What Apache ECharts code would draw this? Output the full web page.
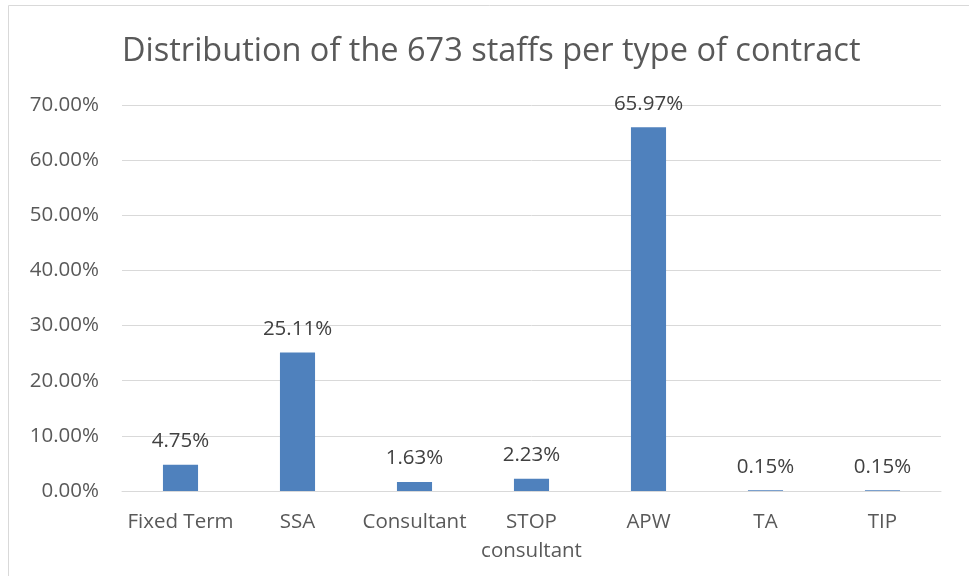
<!DOCTYPE html>
<html lang="en">
<head>
    <meta charset="utf-8"/>
    <title>Distribution of the 673 staffs per type of contract</title>
    <script src="https://cdn.jsdelivr.net/npm/echarts@6/dist/echarts.min.js"></script>
    <style>
        html, body { margin: 0; padding: 0; background: #fff; }
        #chart { width: 969px; height: 576px; }
    </style>
</head>
<body>
<div id="chart"></div>
<script>
    const categories = ['Fixed Term', 'SSA', 'Consultant', 'STOP\nconsultant', 'APW', 'TA', 'TIP'];
    const shares = [4.75, 25.11, 1.63, 2.23, 65.97, 0.15, 0.15];

    const font = 'Open Sans';
    const chart = echarts.init(document.getElementById('chart'));
    const option = {
        animation: false,
        textStyle: { fontFamily: font },
        title: {
            text: 'Distribution of the 673 staffs per type of contract',
            left: 122,
            top: 35,
            padding: 0,
            textStyle: { fontFamily: font, fontSize: 32.5, fontWeight: 'normal', color: '#595959' }
        },
        graphic: [{
            type: 'rect',
            shape: { x: 8.5, y: 5.5, width: 1000, height: 600 },
            style: { fill: 'none', stroke: '#d9d9d9', lineWidth: 1 },
            silent: true
        }],
        grid: { left: 122, right: 28, top: 105, bottom: 85 },
        xAxis: {
            type: 'category',
            data: categories,
            axisLine: { lineStyle: { color: '#d9d9d9', width: 1 } },
            axisTick: { show: false },
            axisLabel: { color: '#595959', fontSize: 20.5, margin: 17, lineHeight: 29, interval: 0 }
        },
        yAxis: {
            type: 'value',
            min: 0,
            max: 70,
            interval: 10,
            axisLine: { show: false },
            axisTick: { show: false },
            splitLine: { lineStyle: { color: '#d9d9d9', width: 1 } },
            axisLabel: {
                color: '#595959', fontSize: 20.5, margin: 23,
                formatter: v => v.toFixed(2) + '%'
            }
        },
        series: [{
            type: 'bar',
            data: shares,
            barWidth: '30%',
            itemStyle: { color: '#4f81bd' },
            label: {
                show: true,
                position: 'top',
                distance: 13,
                color: '#404040',
                fontSize: 20.5,
                formatter: p => p.value.toFixed(2) + '%'
            }
        }]
    };
    chart.setOption(option);
</script>
</body>
</html>
